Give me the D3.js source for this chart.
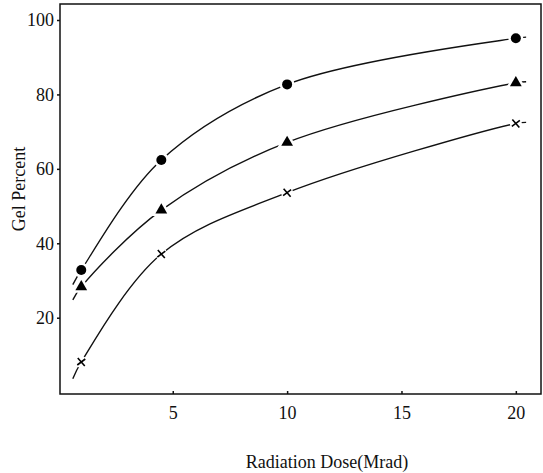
<!DOCTYPE html>
<html>
<head>
<meta charset="utf-8">
<script src="https://cdn.jsdelivr.net/npm/d3@7"></script>
<style>
body { margin: 0; background: #fff; }
.axis path, .axis line { stroke: #111; stroke-width: 1.5; }
</style>
</head>
<body>
<div id="chart"></div>
<script>
// data
var doses = [1, 4.5, 10, 20]
var circleGel = [32.8, 62.4, 82.7, 95.1]
var triangleGel = [28.3, 48.9, 67.1, 83.1]
var crossGel = [8.1, 37.1, 53.6, 72.2]
// short dashed ends of each fitted curve
var tailDoses = [0.63, 20.45]
var circleTail = [28.9, 95.4]
var triangleTail = [24.8, 83.4]
var crossTail = [3.6, 72.5]
var xTicks = [5, 10, 15, 20]
var yTicks = [20, 40, 60, 80, 100]

var serif = "'Liberation Serif', 'Times New Roman', 'DejaVu Serif', serif"
var width = 543, height = 473
var margin = { left: 60, top: 4, right: 2, bottom: 79 }
var w = width - margin.left - margin.right
var h = height - margin.top - margin.bottom

var svg = d3.select("#chart")
    .append("svg")
    .attr("width", width)
    .attr("height", height)

var g = svg.append("g")
    .attr("transform", "translate(" + margin.left + "," + margin.top + ")")

var xScale = d3.scaleLinear()
    .domain([0.07, 21.1])
    .range([0, w])

var yScale = d3.scaleLinear()
    .domain([-0.5, 104.3])
    .range([h, 0])

// frame
g.append("rect")
    .attr("width", w)
    .attr("height", h)
    .attr("fill", "none")
    .attr("stroke", "#111")
    .attr("stroke-width", 1.5)

var xAxis = d3.axisBottom(xScale)
    .tickValues(xTicks)
    .tickSize(-3)
    .tickPadding(12.5)
    .tickFormat(d3.format("d"))

var yAxis = d3.axisLeft(yScale)
    .tickValues(yTicks)
    .tickSize(3)
    .tickPadding(3)
    .tickFormat(d3.format("d"))

g.append("g")
    .attr("class", "axis")
    .attr("transform", "translate(0," + h + ")")
    .call(xAxis)
    .attr("font-family", serif)
    .attr("font-size", 18)
    .call(function(a) { a.select(".domain").remove() })
    .selectAll("text")
    .attr("fill", "#111")

g.append("g")
    .attr("class", "axis")
    .call(yAxis)
    .attr("font-family", serif)
    .attr("font-size", 18)
    .call(function(a) { a.select(".domain").remove() })
    .selectAll("text")
    .attr("fill", "#111")

svg.append("text")
    .attr("x", 327)
    .attr("y", 468)
    .attr("text-anchor", "middle")
    .attr("font-family", serif)
    .attr("font-size", 18)
    .attr("fill", "#111")
    .text("Radiation Dose(Mrad)")

svg.append("text")
    .attr("transform", "translate(25,189) rotate(-90)")
    .attr("text-anchor", "middle")
    .attr("font-family", serif)
    .attr("font-size", 18)
    .attr("fill", "#111")
    .text("Gel Percent")

var series = [
    { name: "circle", values: circleGel, tail: circleTail },
    { name: "triangle", values: triangleGel, tail: triangleTail },
    { name: "cross", values: crossGel, tail: crossTail }
]

var line = d3.line()
    .x(function(d) { return xScale(d[0]) })
    .y(function(d) { return yScale(d[1]) })
    .curve(d3.curveCatmullRom.alpha(0.5))

series.forEach(function(s) {
    var pts = [[tailDoses[0], s.tail[0]]]
    for (var i = 0; i < doses.length; i++) {
        pts.push([doses[i], s.values[i]])
    }
    pts.push([tailDoses[1], s.tail[1]])

    g.append("path")
        .datum(pts)
        .attr("fill", "none")
        .attr("stroke", "#111")
        .attr("stroke-width", 1.4)
        .attr("d", line)

    var marks = g.selectAll(".m-" + s.name)
        .data(doses.map(function(d, i) { return [d, s.values[i]] }))
        .enter()
        .append("g")
        .attr("class", "m-" + s.name)
        .attr("transform", function(d) {
            return "translate(" + xScale(d[0]) + "," + yScale(d[1]) + ")"
        })

    if (s.name == "circle") {
        marks.append("circle")
            .attr("r", 5)
            .attr("fill", "#000")
            .attr("stroke", "#fff")
            .attr("stroke-width", 5)
            .attr("paint-order", "stroke")
    } else if (s.name == "triangle") {
        marks.append("path")
            .attr("d", d3.symbol().type(d3.symbolTriangle).size(60))
            .attr("fill", "#000")
            .attr("stroke", "#fff")
            .attr("stroke-width", 5)
            .attr("paint-order", "stroke")
    } else {
        marks.append("circle")
            .attr("r", 6)
            .attr("fill", "#fff")
        marks.append("path")
            .attr("d", "M-3.5,-4L3.5,4M-4,3L4,-3")
            .attr("stroke", "#000")
            .attr("stroke-width", 1.6)
    }
})
</script>
</body>
</html>
